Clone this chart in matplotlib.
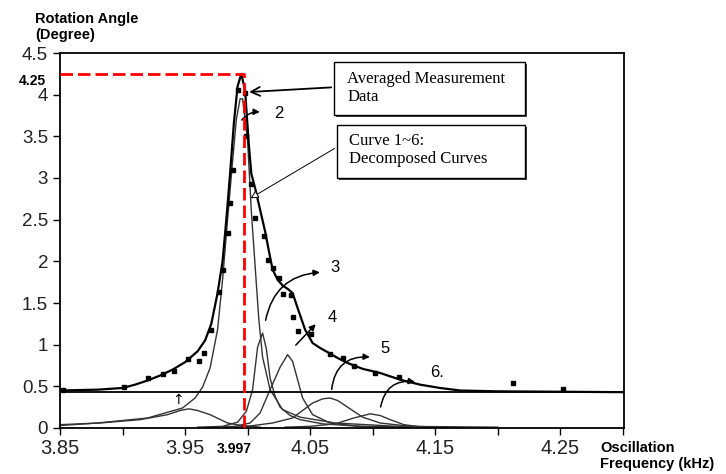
import matplotlib
matplotlib.use('Agg')
import matplotlib.pyplot as plt
from matplotlib.patches import Rectangle

plt.rcParams['font.family'] = ['Liberation Sans', 'DejaVu Sans']

# averaged measurement points (kHz, degree)
pts_x = [3.852, 3.901, 3.920, 3.932, 3.941, 3.952, 3.961, 3.965, 3.971, 3.977, 3.980,
         3.984, 3.986, 3.988, 3.992, 3.998, 3.999, 4.003, 4.006, 4.013, 4.016, 4.020,
         4.025, 4.028, 4.035, 4.036, 4.040, 4.051, 4.066, 4.076, 4.085, 4.102, 4.121,
         4.212, 4.252]
pts_y = [0.46, 0.49, 0.60, 0.65, 0.68, 0.83, 0.80, 0.90, 1.18, 1.63, 1.90,
         2.34, 2.70, 3.10, 4.06, 4.02, 3.50, 2.93, 2.52, 2.30, 2.02, 1.92,
         1.80, 1.61, 1.60, 1.33, 1.17, 1.13, 0.89, 0.84, 0.75, 0.66, 0.61,
         0.54, 0.47]

# fitted total curve
tot_x = [3.850, 3.880, 3.900, 3.910, 3.920, 3.930, 3.940, 3.950, 3.960, 3.966, 3.971,
         3.976, 3.980, 3.983, 3.986, 3.989, 3.992, 3.995, 3.998, 4.001, 4.003, 4.006,
         4.010, 4.014, 4.018, 4.020, 4.024, 4.028, 4.032, 4.036, 4.040, 4.046, 4.052,
         4.058, 4.064, 4.072, 4.080, 4.092, 4.106, 4.122, 4.138, 4.154, 4.170, 4.200, 4.301]
tot_y = [0.45, 0.46, 0.48, 0.52, 0.57, 0.63, 0.70, 0.79, 0.92, 1.05, 1.25,
         1.62, 2.00, 2.50, 3.05, 3.65, 4.10, 4.25, 4.05, 3.40, 3.05, 2.88,
         2.62, 2.36, 2.05, 1.90, 1.78, 1.71, 1.67, 1.62, 1.44, 1.18, 1.02,
         0.96, 0.91, 0.84, 0.78, 0.71, 0.66, 0.58, 0.52, 0.48, 0.45, 0.44, 0.43]

# decomposed curves 1~6
c1_x = [3.850, 3.882, 3.914, 3.936, 3.946, 3.953, 3.960, 3.970, 3.984, 3.995, 4.010]
c1_y = [0.04, 0.06, 0.10, 0.16, 0.21, 0.23, 0.21, 0.16, 0.06, 0.03, 0.01]
c2_x = [3.850, 3.880, 3.920, 3.948, 3.958, 3.964, 3.970, 3.976, 3.980, 3.984, 3.988,
        3.991, 3.994, 3.996, 4.000, 4.003, 4.006, 4.009, 4.012, 4.018, 4.028, 4.042,
        4.070, 4.120, 4.200]
c2_y = [0.03, 0.06, 0.12, 0.24, 0.36, 0.49, 0.72, 1.18, 1.78, 2.50, 3.20,
        3.70, 3.95, 3.95, 3.45, 2.60, 1.95, 1.30, 0.85, 0.46, 0.22, 0.13,
        0.06, 0.02, 0.01]
c3_x = [3.960, 3.980, 3.992, 3.999, 4.004, 4.008, 4.012, 4.015, 4.018, 4.022, 4.026,
        4.034, 4.042, 4.060, 4.090, 4.130]
c3_y = [0.01, 0.02, 0.07, 0.20, 0.46, 0.97, 1.14, 0.95, 0.60, 0.38, 0.25,
        0.15, 0.10, 0.05, 0.02, 0.01]
c4_x = [3.970, 3.990, 4.002, 4.010, 4.018, 4.026, 4.032, 4.036, 4.040, 4.044, 4.052,
        4.066, 4.090, 4.120]
c4_y = [0.01, 0.02, 0.06, 0.18, 0.46, 0.73, 0.88, 0.80, 0.58, 0.36, 0.16,
        0.06, 0.02, 0.01]
c5_x = [3.990, 4.000, 4.020, 4.036, 4.052, 4.060, 4.066, 4.072, 4.080, 4.092, 4.106, 4.130, 4.160]
c5_y = [0.01, 0.02, 0.06, 0.12, 0.30, 0.35, 0.36, 0.33, 0.25, 0.13, 0.06, 0.02, 0.01]
c6_x = [4.030, 4.050, 4.070, 4.085, 4.098, 4.106, 4.114, 4.125, 4.140, 4.170]
c6_y = [0.01, 0.02, 0.05, 0.12, 0.17, 0.15, 0.10, 0.04, 0.01, 0.0]

peak_x = 3.997
peak_y = 4.25
base_y = 0.43

x_ticks = [3.85, 3.95, 4.05, 4.15, 4.25]
x_minor = [3.90, 4.00, 4.10, 4.20, 4.30]
y_ticks = [0, 0.5, 1, 1.5, 2, 2.5, 3, 3.5, 4, 4.5]
y_labels = ['0', '0.5', '1', '1.5', '2', '2.5', '3', '3.5', '4', '4.5']

fig = plt.figure(figsize=(7.26, 4.74), dpi=100)
ax = fig.add_axes([60 / 726, 46 / 474, 564 / 726, 375 / 474])

# decomposed curves
for cx, cy in [(c1_x, c1_y), (c2_x, c2_y), (c3_x, c3_y), (c4_x, c4_y), (c5_x, c5_y), (c6_x, c6_y)]:
    ax.plot(cx, cy, color='#333333', lw=1.0)

ax.axhline(base_y, color='black', lw=1.3)
ax.plot(tot_x, tot_y, color='black', lw=1.6)
ax.plot(pts_x, pts_y, 's', color='black', markersize=3.5)

# red dashed guide to the peak
ax.plot([3.85, peak_x, peak_x], [peak_y, peak_y, 0], color='red', lw=2.0,
        dashes=(4.5, 1.8), clip_on=False, zorder=5)

ax.set_xlim(3.85, 4.301)
ax.set_ylim(0, 4.5)
ax.set_xticks(x_ticks)
ax.set_xticks(x_minor, minor=True)
ax.set_yticks(y_ticks)
ax.set_yticklabels(y_labels)
ax.tick_params(axis='both', which='both', direction='out', length=5, width=1.0,
               labelcolor='#222222')
ax.tick_params(axis='x', labelsize=14.5, pad=3)
ax.tick_params(axis='y', labelsize=13.5)
for s in ax.spines.values():
    s.set_linewidth(1.3)

# curve labels with hand-drawn style arrows
arrows = [
    ('2', (3.994, 3.67), (4.012, 3.79), (4.021, 3.77), -0.3),
    ('3', (4.014, 1.26), (4.060, 1.87), (4.066, 1.93), -0.4),
    ('4', (4.037, 0.97), (4.056, 1.27), (4.064, 1.33), 0.0),
    ('5', (4.067, 0.43), (4.100, 0.85), (4.106, 0.95), -0.5),
    ('6.', (4.106, 0.22), (4.136, 0.55), (4.146, 0.67), -0.5),
]
for lab, p0, p1, pt, rad in arrows:
    ax.annotate('', xy=p1, xytext=p0,
                arrowprops=dict(arrowstyle='-|>', connectionstyle='arc3,rad=%s' % rad,
                                lw=1.1, color='black', mutation_scale=9))
    ax.text(pt[0], pt[1], lab, fontsize=12, ha='left', va='center')
ax.text(3.944, 0.33, '\u2191', fontsize=10, ha='center', va='center', family='DejaVu Sans')

# annotation boxes
for bx, by, bw, bh in [(0.4858, 0.8347, 0.3387, 0.1413), (0.4911, 0.6667, 0.3334, 0.1413)]:
    ax.add_patch(Rectangle((bx + 0.004, by - 0.006), bw, bh, transform=ax.transAxes,
                           facecolor='#444444', edgecolor='none', clip_on=False, zorder=6))
    ax.add_patch(Rectangle((bx, by), bw, bh, transform=ax.transAxes,
                           facecolor='white', edgecolor='black', lw=1.0, clip_on=False, zorder=7))
ax.text(0.5089, 0.9067, 'Averaged Measurement\nData', transform=ax.transAxes,
        family='Liberation Serif', fontsize=12, va='center', ha='left', linespacing=1.15, zorder=8)
ax.text(0.5124, 0.7413, 'Curve 1~6:\nDecomposed Curves', transform=ax.transAxes,
        family='Liberation Serif', fontsize=12, va='center', ha='left', linespacing=1.15, zorder=8)

ax.annotate('', xy=(3.999, 4.03), xytext=(0.4858, 0.9087), textcoords='axes fraction',
            arrowprops=dict(arrowstyle='->', lw=1.3, color='black', mutation_scale=16))
ax.annotate('', xy=(4.0004, 2.74), xytext=(0.4911, 0.7493), textcoords='axes fraction',
            arrowprops=dict(arrowstyle='-|>', lw=0.7, color='black', fc='white', mutation_scale=12))

# bold value labels
ax.annotate('4.25', xy=(3.85, peak_y), xytext=(-14, -7), textcoords='offset pixels',
            ha='right', va='center', fontsize=10, fontweight='bold')
ax.annotate('3.997', xy=(peak_x, 0), xytext=(-10, -14), textcoords='offset pixels',
            ha='center', va='top', fontsize=10, fontweight='bold')

fig.text(35 / 726, 1 - 12 / 474, 'Rotation Angle\n(Degree)', fontsize=10.5,
         fontweight='bold', ha='left', va='top', linespacing=1.2)
fig.text(600 / 726, 1 - 441 / 474, 'Oscillation\nFrequency (kHz)', fontsize=10.5,
         fontweight='bold', ha='left', va='top', linespacing=1.2)

plt.savefig('out.png', dpi=100)
